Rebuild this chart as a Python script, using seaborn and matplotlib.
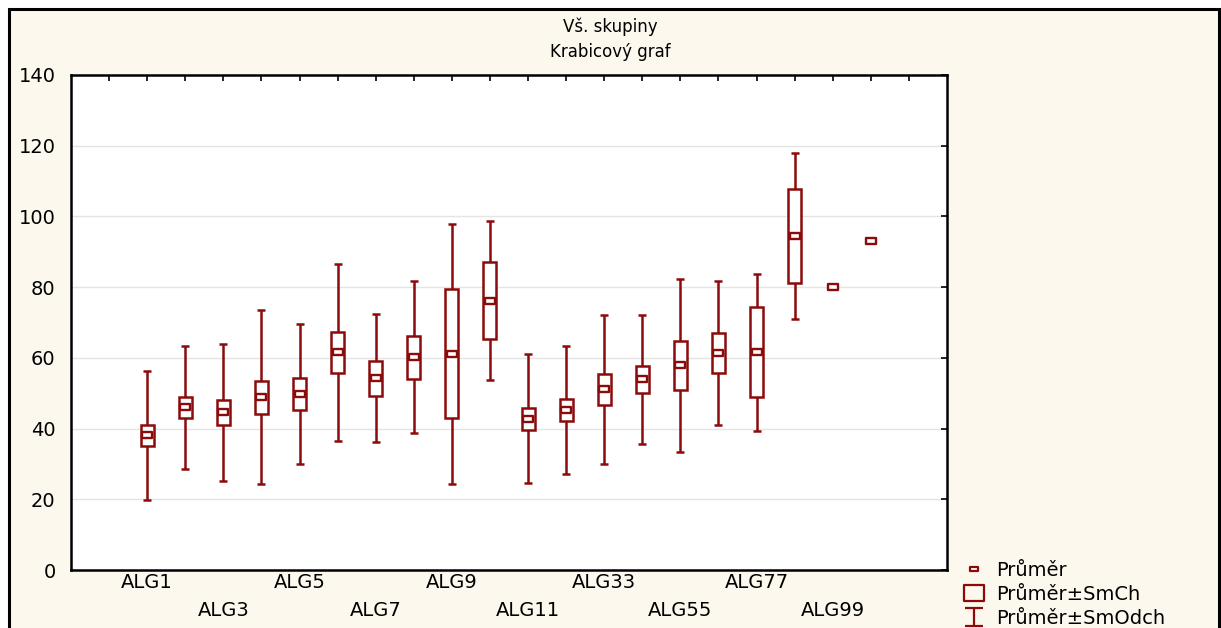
import numpy as np
import pandas as pd
import matplotlib
matplotlib.use("Agg")
import matplotlib.pyplot as plt
import seaborn as sns
from matplotlib.path import Path
from matplotlib.patches import Rectangle
from matplotlib.lines import Line2D

# ---- data ----
categories = ["ALG1", "ALG2", "ALG3", "ALG4", "ALG5", "ALG6", "ALG7", "ALG8", "ALG9", "ALG10",
              "ALG11", "ALG22", "ALG33", "ALG44", "ALG55", "ALG66", "ALG77", "ALG88", "ALG99", "ALG100"]
means = [38.1, 46.0, 44.6, 48.9, 49.8, 61.6, 54.2, 60.2, 61.2, 76.2,
         42.8, 45.3, 51.1, 53.9, 57.9, 61.5, 61.6, 94.5, 80.1, 93.0]
std_err = [3.0, 2.9, 3.6, 4.65, 4.6, 5.8, 5.05, 6.1, 18.2, 10.95,
           3.15, 3.1, 4.3, 3.7, 6.85, 5.65, 12.65, 13.25, np.nan, np.nan]
std_dev = [18.2, 17.4, 19.3, 24.7, 19.85, 25.05, 18.1, 21.55, 36.8, 22.4,
           18.3, 18.05, 21.0, 18.2, 24.5, 20.35, 22.2, 23.45, np.nan, np.nan]
title_lines = ["Vš. skupiny", "Krabicový graf"]
legend_labels = ["Průměr", "Průměr±SmCh", "Průměr±SmOdch"]
y_ticks = [0, 20, 40, 60, 80, 100, 120, 140]

RED = "#8B0A0A"
CREAM = "#FCF8EE"

sns.set_theme(style="white")
plt.rcParams["font.family"] = ["DejaVu Sans"]
plt.rcParams["text.color"] = "black"
plt.rcParams["xtick.color"] = "black"
plt.rcParams["ytick.color"] = "black"
plt.rcParams["axes.labelcolor"] = "black"

df = pd.DataFrame({"cat": categories, "mean": means, "se": std_err, "sd": std_dev})
df["pos"] = np.arange(len(df))

fig = plt.figure(figsize=(12.21, 6.28), dpi=100, facecolor="white")
# cream framed background
fig.patches.append(Rectangle((9 / 1221, -0.05), 1210 / 1221, 1.05 - 9 / 628,
                             transform=fig.transFigure, facecolor=CREAM,
                             edgecolor="black", linewidth=2.2, zorder=-5))

ax = fig.add_axes([71 / 1221, 58 / 628, 876 / 1221, 495 / 628])
ax.set_facecolor("white")

# whiskers: mean ± SD
ax.errorbar(df["pos"], df["mean"], yerr=df["sd"], fmt="none", ecolor=RED,
            elinewidth=1.8, capsize=2.9, capthick=1.8, zorder=2)
# boxes: mean ± SE
ax.bar(df["pos"], 2 * df["se"], bottom=df["mean"] - df["se"], width=0.34,
       color="white", edgecolor=RED, linewidth=1.8, zorder=3)

rect_marker = Path([(-1, -0.55), (1, -0.55), (1, 0.55), (-1, 0.55), (-1, -0.55)],
                   [Path.MOVETO, Path.LINETO, Path.LINETO, Path.LINETO, Path.CLOSEPOLY])
sns.scatterplot(data=df, x="pos", y="mean", marker=rect_marker, s=58,
                color="white", edgecolor=RED, linewidth=1.7, zorder=4, ax=ax, legend=False)

ax.set_xlim(-2, 21)
ax.set_ylim(0, 140)
ax.set_yticks(y_ticks)
ax.set_yticklabels([str(v) for v in y_ticks])
major_pos = df["pos"][::2].tolist()
major_lab = [c if i % 2 == 0 else "\n" + c for i, c in enumerate(categories[::2])]
ax.set_xticks(major_pos)
ax.set_xticklabels(major_lab)
ax.set_xticks(np.arange(-1, 21), minor=True)
for lbl in ax.get_xticklabels():
    lbl.set_linespacing(1.6)
ax.set_xlabel("")
ax.set_ylabel("")
ax.tick_params(axis="both", which="both", direction="in", length=4, width=1.2,
               top=True, right=True, colors="black", labelsize=14)
ax.tick_params(axis="x", which="major", pad=2)
ax.tick_params(axis="y", which="major", pad=11)
ax.yaxis.grid(True, color="#e4e4e4", linewidth=1.0)
ax.xaxis.grid(False)
ax.set_axisbelow(True)
for sp in ax.spines.values():
    sp.set_color("black")
    sp.set_linewidth(1.8)
    sp.set_visible(True)

fig.text(0.5, 1 - 27 / 628, title_lines[0], ha="center", va="center", fontsize=12, color="black")
fig.text(0.5, 1 - 52 / 628, title_lines[1], ha="center", va="center", fontsize=12, color="black")

# legend
wide_rect = Path([(-1, -0.78), (1, -0.78), (1, 0.78), (-1, 0.78), (-1, -0.78)],
                 [Path.MOVETO, Path.LINETO, Path.LINETO, Path.LINETO, Path.CLOSEPOLY])
ibar = Path([(-1, -1), (1, -1), (0, -1), (0, 1), (-1, 1), (1, 1)],
            [Path.MOVETO, Path.LINETO, Path.MOVETO, Path.LINETO, Path.MOVETO, Path.LINETO])
handles = [
    Line2D([], [], ls="none", marker=rect_marker, ms=6, mfc="white", mec=RED, mew=1.6),
    Line2D([], [], ls="none", marker=wide_rect, ms=15, mfc="none", mec=RED, mew=1.6),
    Line2D([], [], ls="none", marker=ibar, ms=13, mfc="none", mec=RED, mew=1.6),
]
fig.legend(handles, legend_labels, loc="upper left", bbox_to_anchor=(960 / 1221, 1 - 561 / 628),
           frameon=False, fontsize=14, numpoints=1, handlelength=1.4, handletextpad=0.45,
           labelspacing=0.25, borderaxespad=0, borderpad=0)

fig.savefig("out.png", dpi=100)
